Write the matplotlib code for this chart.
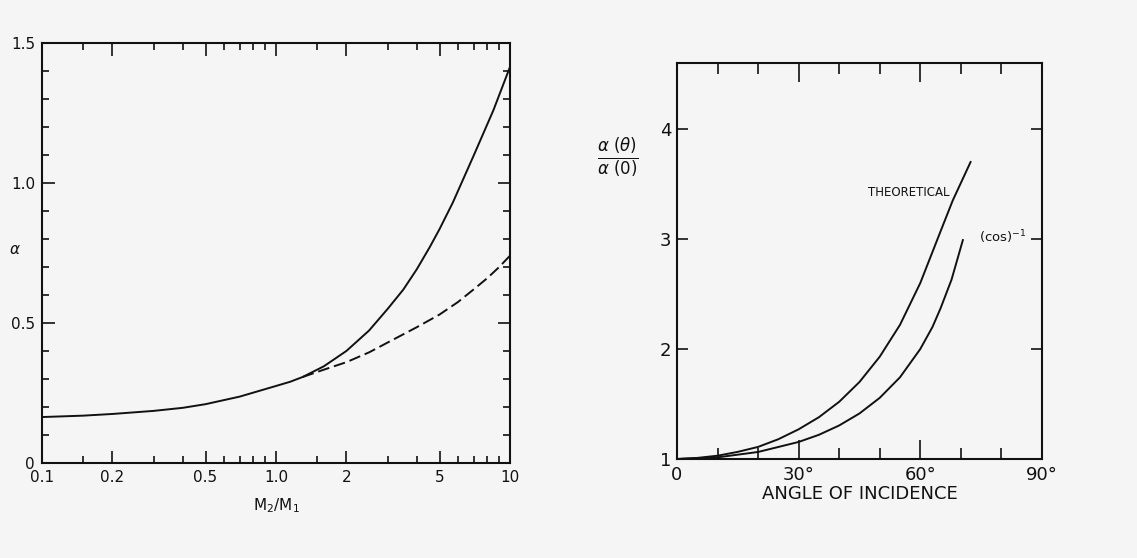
import matplotlib
matplotlib.use("Agg")
import matplotlib.pyplot as plt
from matplotlib.ticker import FixedLocator, NullFormatter

# left panel: alpha vs M2/M1 (log x)
mass_ratio = [0.1, 0.15, 0.2, 0.3, 0.4, 0.5, 0.7, 1.0, 1.15, 1.3, 1.6, 2.0, 2.5, 3.0, 3.5, 4.0,
              4.55, 5.0, 5.7, 7.0, 8.5, 10.0]
alpha_solid = [0.164, 0.169, 0.175, 0.186, 0.197, 0.21, 0.237, 0.275, 0.29, 0.307, 0.345, 0.40, 0.473,
               0.55, 0.619, 0.692, 0.772, 0.835, 0.93, 1.098, 1.26, 1.414]
ratio_dash = [1.3, 1.6, 2.0, 2.5, 3.0, 4.0, 5.0, 6.0, 7.0, 8.0, 9.0, 10.0]
alpha_dash = [0.307, 0.333, 0.36, 0.395, 0.43, 0.485, 0.53, 0.575, 0.62, 0.66, 0.70, 0.74]
left_major = [0.1, 0.2, 0.5, 1.0, 2, 5, 10]
left_major_labels = ["0.1", "0.2", "0.5", "1.0", "2", "5", "10"]
left_minor = [0.15, 0.3, 0.4, 0.6, 0.7, 0.8, 0.9, 1.5, 3, 4, 6, 7, 8, 9]
left_yticks = [0, 0.5, 1.0, 1.5]
left_ylabels = ["0", "0.5", "1.0", "1.5"]
left_yminor = [0.1, 0.2, 0.3, 0.4, 0.6, 0.7, 0.8, 0.9, 1.1, 1.2, 1.3, 1.4]

# right panel: alpha(theta)/alpha(0) vs angle of incidence
theta_theory = [0, 5, 10, 15, 20, 25, 30, 35, 40, 45, 50, 55, 60, 65, 68, 72.4]
ratio_theory = [1.0, 1.01, 1.03, 1.065, 1.11, 1.18, 1.27, 1.38, 1.52, 1.70, 1.93, 2.22, 2.60, 3.07, 3.35, 3.70]
theta_cos = [0, 10, 20, 30, 35, 40, 45, 50, 55, 60, 63, 65, 67.7, 70.5]
ratio_cos = [1.0, 1.015, 1.064, 1.155, 1.22, 1.305, 1.414, 1.556, 1.743, 2.0, 2.2, 2.37, 2.63, 2.99]
right_xticks = [0, 30, 60, 90]
right_xlabels = ["0", "30°", "60°", "90°"]
right_xminor = [10, 20, 40, 50, 70, 80]
right_yticks = [1, 2, 3, 4]

bg = "#f5f5f5"
ink = "#111111"
plt.rcParams["font.family"] = ["DejaVu Sans"]

fig = plt.figure(figsize=(11.37, 5.58), dpi=100, facecolor=bg)

ax1 = fig.add_axes([0.0369, 0.1703, 0.4116, 0.7527], facecolor=bg)
ax1.plot(mass_ratio, alpha_solid, color=ink, lw=1.4)
ax1.plot(ratio_dash, alpha_dash, color=ink, lw=1.4, ls=(0, (6, 2.5)))
ax1.set_xscale("log")
ax1.set_xlim(0.1, 10)
ax1.set_ylim(0, 1.5)
ax1.xaxis.set_major_locator(FixedLocator(left_major))
ax1.xaxis.set_minor_locator(FixedLocator(left_minor))
ax1.xaxis.set_minor_formatter(NullFormatter())
ax1.set_xticklabels(left_major_labels)
ax1.set_yticks(left_yticks)
ax1.set_yticklabels(left_ylabels)
ax1.yaxis.set_minor_locator(FixedLocator(left_yminor))
ax1.tick_params(which="both", direction="in", top=True, right=True, colors=ink, width=1.2)
ax1.tick_params(which="major", length=9, labelsize=11, pad=5)
ax1.tick_params(which="minor", length=5)
ax1.set_xlabel("M$_2$/M$_1$", fontsize=11, color=ink, labelpad=8)
ax1.set_ylabel(r"$\alpha$", fontsize=11, color=ink, rotation=0)
ax1.yaxis.set_label_coords(-0.058, 0.49)
for s in ax1.spines.values():
    s.set_linewidth(1.5)
    s.set_color(ink)

ax2 = fig.add_axes([0.5954, 0.1774, 0.3210, 0.7097], facecolor=bg)
ax2.plot(theta_theory, ratio_theory, color=ink, lw=1.4)
ax2.plot(theta_cos, ratio_cos, color=ink, lw=1.4)
ax2.set_xlim(0, 90)
ax2.set_ylim(1, 4.6)
ax2.set_xticks(right_xticks)
ax2.set_xticklabels(right_xlabels)
ax2.xaxis.set_minor_locator(FixedLocator(right_xminor))
ax2.set_yticks(right_yticks)
ax2.tick_params(which="both", direction="in", top=True, right=True, colors=ink, width=1.2)
ax2.tick_params(axis="x", which="major", length=14, labelsize=13, pad=5)
ax2.tick_params(axis="x", which="minor", length=8)
ax2.tick_params(axis="y", which="major", length=8, labelsize=13, pad=4)
ax2.set_xlabel("ANGLE OF INCIDENCE", fontsize=13, color=ink, labelpad=1)
ax2.text(-0.162, 0.763, r"$\frac{\alpha\ (\theta)}{\alpha\ (0)}$", transform=ax2.transAxes,
         fontsize=17, color=ink, ha="center", va="center")
ax2.text(67.2, 3.42, "THEORETICAL", fontsize=8.5, color=ink, ha="right", va="center")
ax2.text(74.5, 3.02, "(cos)$^{-1}$", fontsize=9.5, color=ink, ha="left", va="center")
for s in ax2.spines.values():
    s.set_linewidth(1.5)
    s.set_color(ink)

fig.savefig("out.png", dpi=100, facecolor=bg)
